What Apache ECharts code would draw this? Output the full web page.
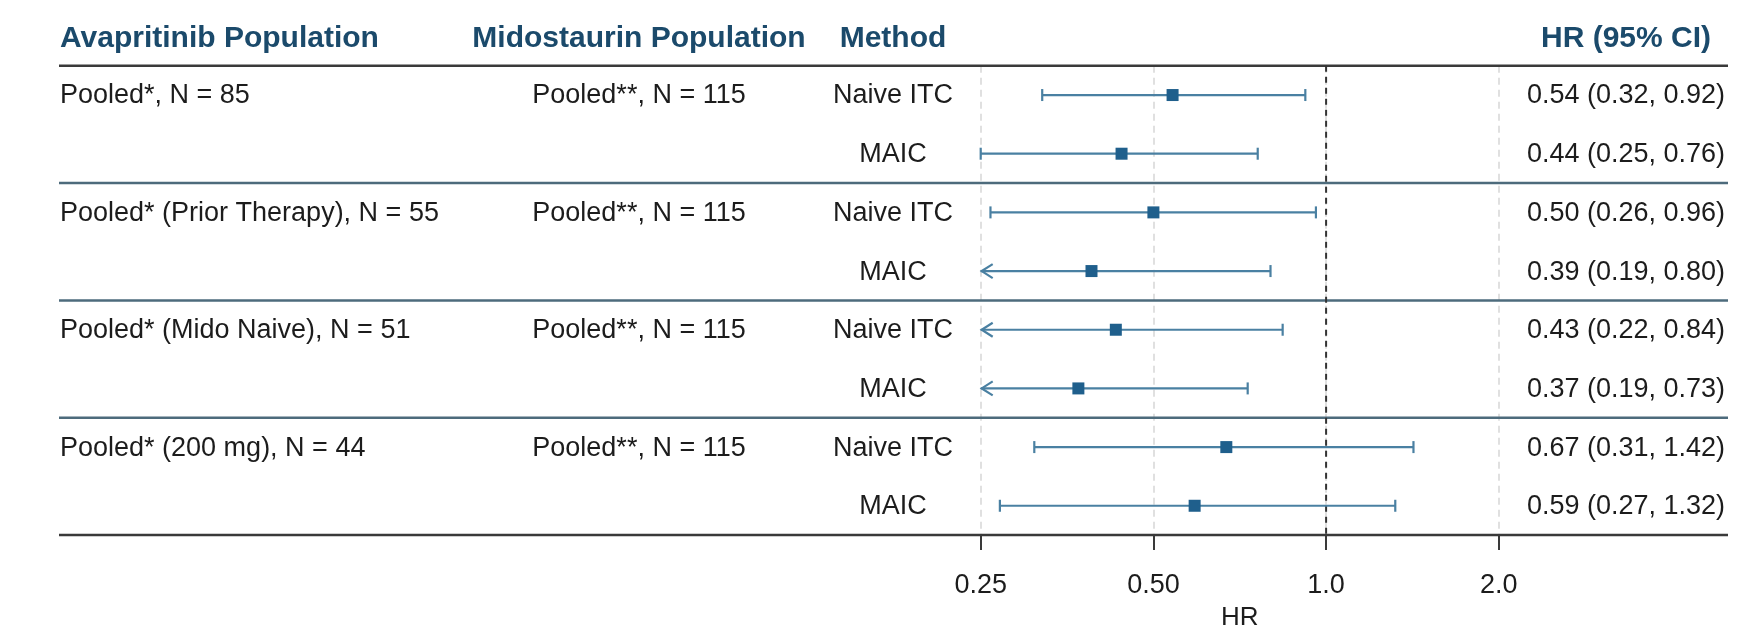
<!DOCTYPE html>
<html>
<head>
<meta charset="utf-8">
<script src="https://cdn.jsdelivr.net/npm/echarts@6/dist/echarts.min.js"></script>
<style>
  html, body { margin: 0; padding: 0; background: #ffffff; }
  #chart { width: 1738px; height: 631px; }
</style>
</head>
<body>
<div id="chart"></div>
<script>
// ---------------- data ----------------
const avapritinibPop = ['Pooled*, N = 85', '', 'Pooled* (Prior Therapy), N = 55', '', 'Pooled* (Mido Naive), N = 51', '', 'Pooled* (200 mg), N = 44', ''];
const midostaurinPop = ['Pooled**, N = 115', '', 'Pooled**, N = 115', '', 'Pooled**, N = 115', '', 'Pooled**, N = 115', ''];
const methods = ['Naive ITC', 'MAIC', 'Naive ITC', 'MAIC', 'Naive ITC', 'MAIC', 'Naive ITC', 'MAIC'];
const hrEstimate = [0.54, 0.44, 0.50, 0.39, 0.43, 0.37, 0.67, 0.59];
const hrLower    = [0.32, 0.25, 0.26, 0.19, 0.22, 0.19, 0.31, 0.27];
const hrUpper    = [0.92, 0.76, 0.96, 0.80, 0.84, 0.73, 1.42, 1.32];
const tickValues = [0.25, 0.5, 1, 2];
const tickLabels = ['0.25', '0.50', '1.0', '2.0'];
const headers = ['Avapritinib Population', 'Midostaurin Population', 'Method', 'HR (95% CI)'];
const axisTitle = 'HR';
const refValue = 1;

// ---------------- layout ----------------
const FONT = '"Liberation Sans", Arial, Helvetica, sans-serif';
const W = 1738, H = 631;
const GRID_LEFT = 980.7, GRID_RIGHT_X = 1498.8;
const GRID_TOP = 65.7, GRID_BOTTOM_Y = 535.1;
const NROWS = methods.length;
const BAND = (GRID_BOTTOM_Y - GRID_TOP) / NROWS;
const TABLE_X0 = 59, TABLE_X1 = 1728;
const COL_AVA = 60, COL_MIDO = 639, COL_METHOD = 893, COL_HR = 1626;
const HEADER_Y = 39;
const TEXT_DY = 1;
const X_MIN = tickValues[0], X_MAX = tickValues[tickValues.length - 1];
const BAR_COLOR = '#4a80a2', MARK_COLOR = '#1f5f8c', HEAD_COLOR = '#1b4a6b';
const TEXT_COLOR = '#1c1c1c';

const ciText = hrEstimate.map((v, i) => `${v.toFixed(2)} (${hrLower[i].toFixed(2)}, ${hrUpper[i].toFixed(2)})`);

const chart = echarts.init(document.getElementById('chart'), null, { renderer: 'canvas' });

// table lines
const lines = [];
const lineAt = (y, color) => lines.push({
  type: 'line', silent: true, z: 1,
  shape: { x1: TABLE_X0, y1: y, x2: TABLE_X1, y2: y },
  style: { stroke: color, lineWidth: 2.5 }
});
lineAt(GRID_TOP, '#3a3a3a');
for (let k = 2; k < NROWS; k += 2) lineAt(GRID_TOP + BAND * k, '#4d6b7c');
lineAt(GRID_BOTTOM_Y, '#3a3a3a');

const headerText = [
  { x: COL_AVA, align: 'left' },
  { x: COL_MIDO, align: 'center' },
  { x: COL_METHOD, align: 'center' },
  { x: COL_HR, align: 'center' }
].map((h, i) => ({
  type: 'text', silent: true, z: 5,
  x: h.x, y: HEADER_Y,
  style: { text: headers[i], font: `bold 30px ${FONT}`, fill: HEAD_COLOR, align: h.align, verticalAlign: 'middle' }
}));

const option = {
  animation: false,
  backgroundColor: '#ffffff',
  grid: {
    left: GRID_LEFT, right: W - GRID_RIGHT_X, top: GRID_TOP, bottom: H - GRID_BOTTOM_Y,
    containLabel: false, outerBoundsMode: 'none'
  },
  xAxis: {
    type: 'log', logBase: 2, min: X_MIN, max: X_MAX, splitNumber: 3,
    axisLine: { show: false },
    axisTick: { show: true, length: 15, lineStyle: { color: '#3a3a3a', width: 2 } },
    axisLabel: {
      margin: 37, fontFamily: FONT, fontSize: 27, color: TEXT_COLOR,
      formatter: (v) => {
        let best = 0;
        tickValues.forEach((t, i) => { if (Math.abs(Math.log2(t) - Math.log2(v)) < Math.abs(Math.log2(tickValues[best]) - Math.log2(v))) best = i; });
        return tickLabels[best];
      }
    },
    splitLine: { show: true, lineStyle: { color: '#d6d6d6', type: [7, 5], width: 1.5 } },
    name: axisTitle, nameLocation: 'middle', nameGap: 70,
    nameTextStyle: { fontFamily: FONT, fontSize: 26, color: TEXT_COLOR }
  },
  yAxis: {
    type: 'category', inverse: true,
    data: methods.map((_, i) => String(i)),
    axisLine: { show: false }, axisTick: { show: false }, axisLabel: { show: false }, splitLine: { show: false }
  },
  graphic: lines.concat(headerText),
  series: [
    {
      type: 'custom',
      name: 'ref',
      z: 2,
      clip: false,
      data: [[refValue, 0]],
      encode: { x: 0, y: 1 },
      renderItem: (params, api) => {
        const x = api.coord([api.value(0), 0])[0];
        const cs = params.coordSys;
        return {
          type: 'line',
          shape: { x1: x, y1: cs.y, x2: x, y2: cs.y + cs.height },
          style: { stroke: '#333333', lineWidth: 2, lineDash: [6, 5] }
        };
      }
    },
    {
      type: 'custom',
      name: 'ci',
      z: 3,
      clip: false,
      data: hrEstimate.map((v, i) => [hrLower[i], hrUpper[i], v, i]),
      encode: { x: [0, 1, 2], y: 3 },
      renderItem: (params, api) => {
        const lo = api.value(0), hi = api.value(1), est = api.value(2), row = api.value(3);
        const clipped = lo < X_MIN;
        const pLo = api.coord([clipped ? X_MIN : lo, row]);
        const pHi = api.coord([hi, row]);
        const pEst = api.coord([est, row]);
        const y = pLo[1];
        const ls = { stroke: BAR_COLOR, lineWidth: 2.2, fill: null };
        const ch = [
          { type: 'line', shape: { x1: pLo[0], y1: y, x2: pHi[0], y2: y }, style: ls },
          { type: 'line', shape: { x1: pHi[0], y1: y - 6, x2: pHi[0], y2: y + 6 }, style: ls }
        ];
        if (clipped) {
          ch.push({ type: 'polyline', shape: { points: [[pLo[0] + 12, y - 7], [pLo[0] + 1, y], [pLo[0] + 12, y + 7]] }, style: ls });
        } else {
          ch.push({ type: 'line', shape: { x1: pLo[0], y1: y - 6, x2: pLo[0], y2: y + 6 }, style: ls });
        }
        ch.push({ type: 'rect', shape: { x: pEst[0] - 6, y: y - 6, width: 12, height: 12 }, style: { fill: MARK_COLOR } });
        return { type: 'group', children: ch };
      }
    },
    {
      type: 'custom',
      name: 'table',
      z: 4,
      clip: false,
      data: methods.map((_, i) => [1, i]),
      encode: { x: 0, y: 1 },
      renderItem: (params, api) => {
        const i = params.dataIndex;
        const y = api.coord([1, api.value(1)])[1] + TEXT_DY;
        const st = (text, x, align) => ({
          type: 'text', x, y,
          style: { text, x: 0, y: 0, font: `27px ${FONT}`, fill: TEXT_COLOR, align, verticalAlign: 'middle' }
        });
        return {
          type: 'group',
          children: [
            st(avapritinibPop[i], COL_AVA, 'left'),
            st(midostaurinPop[i], COL_MIDO, 'center'),
            st(methods[i], COL_METHOD, 'center'),
            st(ciText[i], COL_HR, 'center')
          ]
        };
      }
    }
  ]
};
chart.setOption(option);
</script>
</body>
</html>
